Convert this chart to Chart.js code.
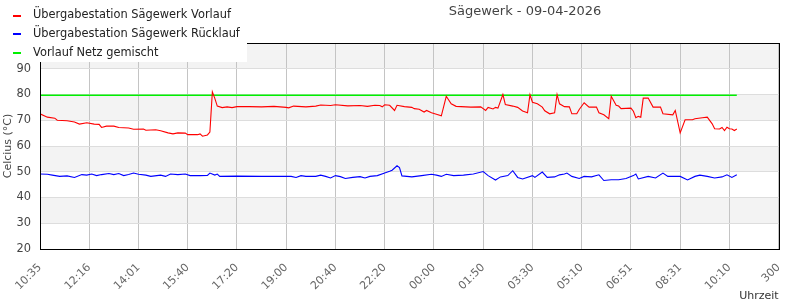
<!DOCTYPE html>
<html>
<head>
<meta charset="utf-8">
<script src="https://cdn.jsdelivr.net/npm/chart.js@4/dist/chart.umd.min.js"></script>
<style>
  body { margin: 0; background: #fff; }
  #wrap { width: 800px; height: 300px; }
</style>
</head>
<body>
<div id="wrap"><canvas id="chart" width="800" height="300"></canvas></div>
<script>
// tick labels, one for every 20 samples (5 min each)
var tickLabels = ['10:35', '12:16', '14:01', '15:40', '17:20', '19:00', '20:40', '22:20',
    '00:00', '01:50', '03:30', '05:10', '06:51', '08:31', '10:10', '300'];

var seriesNames = ['Übergabestation Sägewerk Vorlauf', 'Übergabestation Sägewerk Rücklauf', 'Vorlauf Netz gemischt'];
var seriesColors = ['#ff0000', '#0000ff', '#00f000'];

// Vorlauf: sample index / value
var vorlaufX = [0, 3, 6, 7, 11, 14, 16, 19, 22, 24, 25, 27, 30, 32, 36, 38, 42, 43, 47, 49,
    52, 54, 56, 59, 60, 64, 65, 66, 68, 69, 70, 71, 72, 74, 76, 78, 80, 85, 90, 95,
    100, 101, 103, 108, 112, 114, 118, 120, 125, 130, 133, 136, 138, 139, 140, 142, 144, 145, 148, 151,
    152, 154, 156, 157, 159, 161, 163, 165, 167, 169, 175, 179, 181, 182, 184, 185, 186, 188, 189, 192,
    194, 196, 198, 199, 200, 202, 204, 205, 207, 209, 210, 211, 213, 215, 216, 218, 219, 221, 223, 226,
    227, 229, 231, 232, 234, 235, 236, 240, 241, 242, 243, 244, 245, 247, 249, 252, 253, 257, 258, 260,
    262, 265, 266, 269, 271, 273, 274, 276, 277, 278, 279, 280, 281, 282, 283];
var vorlaufY = [72.5, 71.2, 70.8, 70.0, 69.8, 69.3, 68.5, 69.0, 68.5, 68.4, 67.2, 67.7, 67.7, 67.2, 67.0, 66.5, 66.6, 66.1, 66.3, 65.9,
    65.1, 64.7, 65.1, 65.0, 64.4, 64.4, 64.7, 63.8, 64.3, 65.4, 81.0, 78.5, 75.5, 74.9, 75.2, 74.9, 75.3, 75.3, 75.2, 75.4,
    75.0, 74.8, 75.5, 75.2, 75.5, 75.9, 75.7, 76.0, 75.6, 75.7, 75.4, 75.8, 75.7, 75.2, 76.0, 75.8, 73.8, 75.8, 75.3, 75.0,
    74.5, 74.3, 73.2, 73.8, 72.9, 72.3, 71.7, 79.3, 76.4, 75.4, 75.1, 75.2, 73.8, 75.0, 74.4, 75.0, 74.7, 80.0, 76.1, 75.5,
    75.0, 73.6, 72.9, 79.9, 77.0, 76.4, 75.1, 73.7, 72.5, 72.9, 80.0, 76.4, 75.3, 75.2, 72.5, 72.5, 74.2, 76.8, 75.1, 75.1,
    72.9, 72.1, 70.6, 79.3, 75.8, 75.5, 74.5, 74.7, 73.5, 71.0, 71.5, 71.2, 78.6, 78.6, 75.1, 75.1, 72.5, 72.1, 73.8, 65.1,
    70.2, 70.2, 70.6, 71.0, 71.2, 68.6, 66.7, 66.6, 67.2, 66.0, 67.3, 66.7, 66.6, 66.0, 66.6];

// Ruecklauf
var ruecklaufX = [0, 3, 5, 8, 11, 14, 17, 19, 21, 23, 25, 28, 30, 32, 34, 36, 38, 40, 43, 45,
    49, 51, 53, 56, 59, 61, 65, 68, 69, 71, 72, 73, 80, 90, 102, 104, 106, 108, 112, 114,
    116, 118, 120, 122, 124, 127, 130, 132, 134, 137, 140, 142, 143, 145, 146, 147, 149, 151, 155, 159,
    161, 163, 165, 168, 172, 176, 180, 182, 185, 187, 190, 192, 194, 196, 200, 201, 204, 206, 209, 211,
    213, 214, 216, 219, 221, 224, 227, 229, 232, 235, 238, 241, 242, 243, 247, 250, 253, 255, 260, 263,
    266, 268, 271, 274, 277, 279, 281, 283];
var ruecklaufY = [49.1, 49.0, 48.7, 48.2, 48.4, 47.8, 48.9, 48.7, 49.1, 48.5, 48.9, 49.3, 48.9, 49.3, 48.5, 48.9, 49.5, 49.0, 48.7, 48.2,
    48.7, 48.2, 49.1, 48.9, 49.1, 48.5, 48.5, 48.6, 49.5, 48.7, 49.1, 48.2, 48.3, 48.2, 48.2, 47.8, 48.5, 48.2, 48.2, 48.7,
    48.2, 47.6, 48.5, 48.1, 47.4, 47.8, 48.1, 47.6, 48.2, 48.5, 49.5, 50.2, 50.6, 52.3, 51.6, 48.4, 48.2, 48.0, 48.5, 49.0,
    48.7, 48.2, 49.0, 48.5, 48.7, 49.1, 50.1, 48.5, 46.8, 48.0, 48.5, 50.4, 47.8, 47.2, 48.5, 47.8, 49.9, 47.8, 48.0, 48.8,
    49.1, 49.5, 48.2, 47.4, 48.2, 48.0, 48.8, 46.6, 46.9, 46.9, 47.4, 48.5, 49.1, 47.2, 48.2, 47.6, 49.5, 48.2, 48.2, 46.8,
    48.2, 48.7, 48.2, 47.6, 48.0, 48.8, 47.8, 48.8];

// Netz gemischt, constant
var netzX = [0, 283];
var netzY = [79.7, 79.7];

var yMin = 20, yMax = 100, yStep = 10;

function toPoints(xs, ys) {
    var pts = [];
    for (var i = 0; i < xs.length; i++) {
        pts.push({x: xs[i], y: ys[i]});
    }
    return pts;
}

var fontName = "'DejaVu Sans', sans-serif";

var chartDeco = {
    id: 'chartDeco',
    beforeDraw: function(chart) {
        var ctx = chart.ctx;
        var area = chart.chartArea;
        var y = chart.scales.y;
        ctx.save();
        ctx.fillStyle = '#fff';
        ctx.fillRect(0, 0, chart.width, chart.height);
        // grey bands on every other 10 degrees
        ctx.fillStyle = '#f3f3f3';
        for (var v = yMin; v < yMax; v += yStep) {
            if ((v / yStep) % 2 === 1) {
                var top = y.getPixelForValue(v + yStep);
                var bot = y.getPixelForValue(v);
                ctx.fillRect(area.left, top, area.right - area.left, bot - top);
            }
        }
        ctx.restore();
    },
    afterDraw: function(chart) {
        var ctx = chart.ctx;
        var area = chart.chartArea;
        ctx.save();
        ctx.strokeStyle = '#000';
        ctx.lineWidth = 1;
        ctx.strokeRect(Math.round(area.left) + 0.5, Math.round(area.top) + 0.5,
            Math.round(area.right - area.left), Math.round(area.bottom - area.top));

        // legend box sits on top of the plot corner
        ctx.fillStyle = '#fff';
        ctx.fillRect(0, 0, 247, 62);
        ctx.font = '11.4px ' + fontName;
        ctx.textBaseline = 'middle';
        ctx.textAlign = 'left';
        for (var i = 0; i < seriesNames.length; i++) {
            var ly = 15.5 + i * 18.6;
            ctx.fillStyle = seriesColors[i];
            ctx.fillRect(13, Math.round(ly) - 1, 8, 2);
            ctx.fillStyle = '#222';
            ctx.fillText(seriesNames[i], 33, ly);
        }

        ctx.font = '13px ' + fontName;
        ctx.fillStyle = '#444';
        ctx.textAlign = 'center';
        ctx.fillText('Sägewerk - 09-04-2026', 525, 12);
        ctx.restore();
    }
};

var ctx = document.getElementById('chart').getContext('2d');
var chart = new Chart(ctx, {
    type: 'line',
    data: {
        datasets: [{
            label: seriesNames[0],
            data: toPoints(vorlaufX, vorlaufY),
            borderColor: seriesColors[0],
            borderWidth: 1.1,
            pointRadius: 0,
            tension: 0
        }, {
            label: seriesNames[1],
            data: toPoints(ruecklaufX, ruecklaufY),
            borderColor: seriesColors[1],
            borderWidth: 1.1,
            pointRadius: 0,
            tension: 0
        }, {
            label: seriesNames[2],
            data: toPoints(netzX, netzY),
            borderColor: seriesColors[2],
            borderWidth: 1.5,
            pointRadius: 0,
            tension: 0
        }]
    },
    options: {
        responsive: false,
        animation: false,
        layout: {padding: {top: 43, right: 20, left: 0, bottom: 0}},
        plugins: {
            legend: {display: false},
            title: {display: false},
            tooltip: {enabled: false}
        },
        scales: {
            x: {
                type: 'linear',
                min: 0,
                max: 300,
                afterFit: function(scale) { scale.height = 51; },
                border: {display: true, color: '#000', width: 1},
                grid: {color: '#c4c4c4', drawTicks: false},
                ticks: {
                    stepSize: 20,
                    autoSkip: false,
                    maxRotation: 45,
                    minRotation: 45,
                    padding: 12,
                    color: '#666',
                    font: {family: fontName, size: 11},
                    callback: function(value) { return tickLabels[value / 20]; }
                },
                title: {
                    display: true,
                    text: 'Uhrzeit',
                    align: 'end',
                    color: '#333',
                    padding: {top: 0, bottom: -3},
                    font: {family: fontName, size: 11}
                }
            },
            y: {
                min: yMin,
                max: yMax,
                afterFit: function(scale) { scale.width = 40; },
                border: {display: true, color: '#000', width: 1},
                grid: {color: '#dddddd', drawTicks: false},
                ticks: {
                    stepSize: yStep,
                    padding: 9,
                    color: '#444',
                    font: {family: fontName, size: 11.4}
                },
                title: {
                    display: true,
                    text: 'Celcius (°C)',
                    color: '#444',
                    padding: {top: 2, bottom: 0},
                    font: {family: fontName, size: 11}
                }
            }
        }
    },
    plugins: [chartDeco]
});
</script>
</body>
</html>
